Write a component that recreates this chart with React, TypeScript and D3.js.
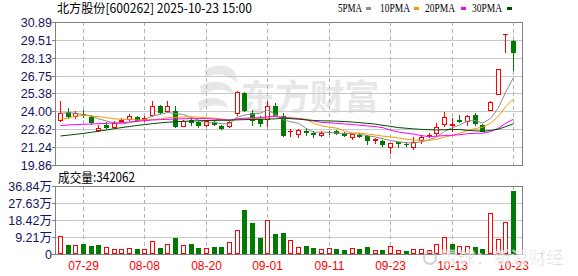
import React from 'react';
import * as d3 from 'd3';

const dates = [
  '07-24','07-25','07-28','07-29','07-30','07-31','08-01','08-04','08-05','08-06','08-07','08-08',
  '08-11','08-12','08-13','08-14','08-15','08-18','08-19','08-20','08-21','08-22','08-25','08-26',
  '08-27','08-28','08-29','09-01','09-02','09-03','09-04','09-05','09-08','09-09','09-10','09-11',
  '09-12','09-15','09-16','09-17','09-18','09-19','09-22','09-23','09-24','09-25','09-26','09-29',
  '09-30','10-09','10-10','10-13','10-14','10-15','10-16','10-17','10-20','10-21','10-22','10-23'
];

const openP = [
  23.36,23.92,23.61,23.82,23.54,22.56,22.97,22.77,23.23,23.44,23.56,23.38,
  23.69,24.44,24.00,24.00,22.90,23.36,23.15,22.97,23.15,22.87,22.84,23.87,
  25.41,23.87,23.44,23.40,24.39,23.65,22.45,22.25,22.51,22.35,22.18,22.40,
  22.48,22.30,22.02,22.18,22.07,21.80,21.74,21.28,21.62,21.50,21.27,21.79,
  22.15,22.30,23.02,22.95,23.30,23.25,23.72,22.95,24.10,25.34,29.96,29.45
];
const highP = [
  24.82,24.26,24.00,24.13,23.74,22.92,23.15,23.23,23.49,23.79,23.67,23.61,
  24.77,24.51,24.77,24.39,23.36,23.49,23.28,23.36,23.31,22.97,23.33,25.54,
  25.49,24.13,23.61,24.80,24.64,23.85,22.65,22.65,22.69,22.45,22.52,22.50,
  22.56,22.38,22.28,22.35,22.15,21.97,21.76,21.58,21.65,21.55,22.00,22.17,
  22.30,23.07,23.97,23.45,23.72,23.72,23.84,23.00,24.76,27.27,29.96,29.50
];
const lowP = [
  23.23,23.49,23.49,23.54,23.02,22.51,22.72,22.72,23.15,23.33,23.28,23.28,
  23.61,23.87,23.95,22.77,22.84,22.97,22.77,22.84,22.92,22.61,22.77,23.74,
  24.00,22.97,22.84,22.85,23.61,22.07,22.10,22.05,22.17,22.05,22.10,22.28,
  22.25,22.12,21.90,21.99,21.50,21.53,21.30,20.75,21.28,21.35,21.07,21.53,
  22.05,22.20,22.87,22.50,23.20,22.95,22.95,22.45,24.08,25.30,28.60,27.20
];
const closeP = [
  23.87,23.61,23.85,23.74,23.15,22.72,22.82,23.08,23.36,23.64,23.36,23.49,
  24.39,23.95,24.39,22.84,23.23,23.20,22.97,23.23,23.05,22.74,23.20,25.49,
  24.13,23.36,23.10,24.40,23.74,22.20,22.50,22.56,22.40,22.22,22.33,22.38,
  22.30,22.18,22.22,22.12,21.76,21.85,21.50,21.55,21.58,21.45,21.66,22.05,
  22.20,22.80,23.54,23.00,23.25,23.64,23.07,22.51,24.74,27.24,29.96,28.60
];
// volume in 万 (10k shares)
const volumeW = [
  9.8,5.0,4.8,5.5,4.5,5.0,3.8,2.9,2.9,3.4,2.9,2.9,
  7.2,3.4,5.5,8.8,4.8,5.5,3.4,3.4,3.9,3.9,6.6,12.9,
  23.8,17.0,8.8,18.2,10.9,11.4,7.6,3.8,4.5,3.4,2.9,3.4,
  2.9,2.3,3.2,2.9,3.9,2.3,2.3,4.5,2.3,1.8,2.9,2.9,
  2.3,5.5,9.3,5.5,4.5,4.5,3.9,2.9,22.2,8.2,17.3,34.2062
];

// MA values at the start of the window (earlier closes are not shown)
const ma5Lead = [23.85,23.90,23.85,23.74];
const ma10Lead = [23.38,23.49,23.64,23.69,23.64,23.59,23.51,23.43,23.38];
const ma20Lead = [22.90,22.95,22.97,23.00,23.02,23.05,23.07,23.10,23.13,23.18,23.23,23.28,23.33,23.36,23.38,23.41,23.43,23.44,23.44];
const ma30Lead = [22.10,22.16,22.23,22.30,22.38,22.47,22.56,22.66,22.75,22.83,22.91,22.98,23.05,23.11,23.16,23.20,23.23,23.25,23.27,23.29,23.30,23.31,23.32,23.34,23.36,23.37,23.38,23.40,23.42];

const priceTicks = ['30.89','29.51','28.13','26.75','25.38','24.00','22.62','21.24','19.86'];
const volTickLabels = ['36.84万','27.63万','18.42万','9.21万','0'];
const volTickValues = [36.84,27.63,18.42,9.21,0];
const xTickLabels = ['07-29','08-08','08-20','09-01','09-11','09-23','10-13','10-23'];

const maSeries = [
  { name: '5PMA', n: 5, lead: ma5Lead, color: '#8c8c8c' },
  { name: '10PMA', n: 10, lead: ma10Lead, color: '#ff9900' },
  { name: '20PMA', n: 20, lead: ma20Lead, color: '#ff00ff' },
  { name: '30PMA', n: 30, lead: ma30Lead, color: '#004d00' },
];

const RED = '#ff0000';
const GREEN = '#007a00';
const LABEL = '#141464';
const GRID = '#c8c8c8';
const FRAME = '#808080';

function movingAvg(n: number, lead: number[]) {
  return closeP.map((_, i) => (i < n - 1 ? lead[i] : (d3.mean(closeP.slice(i - n + 1, i + 1)) as number)));
}

export default function App() {
  const L = 55, R = 522;
  const pTop = 22, pBot = 165, vTop = 186, vBot = 254;
  const x = d3.scalePoint<string>().domain(dates).range([60, 513]);
  const yP = d3.scaleLinear().domain([19.86, 30.89]).range([pBot, pTop]);
  const yV = d3.scaleLinear().domain([0, 36.84]).range([vBot, vTop]);
  const px = (i: number) => Math.round(x(dates[i]) as number);

  const candles = dates.map((d, i) => {
    const o = openP[i], c = closeP[i], h = highP[i], l = lowP[i];
    const up = c >= o;
    const cxp = px(i);
    const top = Math.round(yP(Math.max(o, c)));
    const bot = Math.round(yP(Math.min(o, c)));
    const yh = Math.round(yP(h));
    const yl = Math.round(yP(l));
    const col = up ? RED : GREEN;
    const els: React.ReactNode[] = [];
    if (bot - top < 1) {
      els.push(<line key="w" x1={cxp + 0.5} x2={cxp + 0.5} y1={yh} y2={yl + 1} stroke={col} />);
      els.push(<line key="b" x1={cxp - 2} x2={cxp + 3} y1={top + 0.5} y2={top + 0.5} stroke={col} />);
    } else if (up) {
      els.push(<line key="w1" x1={cxp + 0.5} x2={cxp + 0.5} y1={yh} y2={top} stroke={col} />);
      els.push(<line key="w2" x1={cxp + 0.5} x2={cxp + 0.5} y1={bot + 1} y2={yl + 1} stroke={col} />);
      els.push(<rect key="b" x={cxp - 1.5} y={top + 0.5} width={4} height={bot - top} fill="#fff" stroke={col} />);
    } else {
      els.push(<line key="w" x1={cxp + 0.5} x2={cxp + 0.5} y1={yh} y2={yl + 1} stroke={col} />);
      els.push(<rect key="b" x={cxp - 2} y={top} width={5} height={bot - top + 1} fill={col} />);
    }
    return <g key={d}>{els}</g>;
  });

  const volBars = dates.map((d, i) => {
    const upV = i === 0 ? closeP[0] >= openP[0] : closeP[i] >= closeP[i - 1];
    const cxp = px(i);
    const top = Math.round(yV(volumeW[i]));
    if (upV) {
      return <rect key={d} x={cxp - 1.5} y={top + 0.5} width={4} height={vBot - top - 1} fill="#fff" stroke={RED} />;
    }
    return <rect key={d} x={cxp - 2} y={top} width={5} height={vBot - top} fill={GREEN} />;
  });

  const lineGen = d3.line<number>().x((_, i) => (x(dates[i]) as number) + 0.5).y((v) => yP(v));

  const tickIdx = xTickLabels.map((t) => dates.indexOf(t));

  return (
    <svg width={578} height={276} style={{ position: 'absolute', left: 0, top: 0, background: '#fff' }}
      fontFamily="'Liberation Sans', Arial, sans-serif">
      <defs>
        <clipPath id="pclip"><rect x={L + 1} y={pTop + 1} width={R - L - 1} height={pBot - pTop - 1} /></clipPath>
      </defs>
      <rect x={0} y={0} width={578} height={276} fill="#fff" />

      {/* title */}
      <text x={57} y={13} fontSize={12.5} fill="#000" fontFamily="'Noto Sans CJK SC', sans-serif"
        textLength={195} lengthAdjust="spacingAndGlyphs">北方股份[600262] 2025-10-23 15:00</text>

      {/* legend */}
      {maSeries.map((m, k) => {
        const tx = [338, 380, 425, 472][k];
        const sx = [366, 414, 461, 507][k];
        return (
          <g key={m.name}>
            <text x={tx} y={12.3} fontSize={11.5} fill="#000" fontFamily="'Liberation Serif', serif"
              textLength={m.name.length === 4 ? 24 : 30} lengthAdjust="spacingAndGlyphs">{m.name}</text>
            <rect x={sx} y={7} width={5} height={3} fill={m.color} />
          </g>
        );
      })}

      {/* watermark */}
      <g fill="#e6e6e6" opacity={0.95}>
        <path d="M205,70 C222,60 240,68 236,82 C228,74 214,72 205,78 Z" />
        <path d="M200,86 C214,78 232,82 234,94 C224,88 210,88 202,96 Z" />
        <path d="M198,102 C210,94 226,98 228,108 C218,104 208,104 200,112 Z" />
        <text x={241} y={110} fontSize={35} fontWeight="bold" fontFamily="'Noto Sans CJK SC', sans-serif"
          textLength={138} lengthAdjust="spacingAndGlyphs">东方财富</text>
      </g>

      {/* price panel grid */}
      {priceTicks.map((t) => {
        const yy = Math.round(yP(parseFloat(t))) + 0.5;
        return (
          <g key={t}>
            <line x1={L} x2={R} y1={yy} y2={yy} stroke={GRID} />
            <line x1={L - 3} x2={L} y1={yy} y2={yy} stroke={FRAME} />
            <text x={52} y={yy} dy="0.36em" textAnchor="end" fontSize={12.5} fill={LABEL}>{t}</text>
          </g>
        );
      })}
      {tickIdx.map((i) => (
        <line key={'pv' + i} x1={px(i) + 0.5} x2={px(i) + 0.5} y1={pTop} y2={pBot} stroke="#b4b4b4" strokeDasharray="4,3" />
      ))}

      {/* candles */}
      <g>{candles}</g>

      {/* moving averages */}
      <g clipPath="url(#pclip)">
        {maSeries.map((m) => (
          <path key={m.name} d={lineGen(movingAvg(m.n, m.lead)) || ''} fill="none" stroke={m.color} strokeWidth={1} />
        ))}
      </g>

      <rect x={L + 0.5} y={pTop + 0.5} width={R - L} height={pBot - pTop} fill="none" stroke={FRAME} />

      {/* volume panel */}
      <text x={58} y={177} dy="0.36em" fontSize={13} fill="#000" fontFamily="'Noto Sans CJK SC', sans-serif"
        textLength={77} lengthAdjust="spacingAndGlyphs">成交量:342062</text>
      {volTickValues.map((v, k) => {
        const yy = Math.round(yV(v)) + 0.5;
        return (
          <g key={'vt' + k}>
            <line x1={L} x2={R} y1={yy} y2={yy} stroke={GRID} />
            <line x1={L - 3} x2={L} y1={yy} y2={yy} stroke={FRAME} />
            <text x={52} y={yy} dy="0.36em" textAnchor="end" fontSize={12.5} fill={LABEL}
              fontFamily="'Liberation Sans', 'Noto Sans CJK SC', sans-serif">{volTickLabels[k]}</text>
          </g>
        );
      })}
      {tickIdx.map((i) => (
        <line key={'vv' + i} x1={px(i) + 0.5} x2={px(i) + 0.5} y1={vTop} y2={vBot} stroke="#b4b4b4" strokeDasharray="4,3" />
      ))}
      <g>{volBars}</g>
      <rect x={L + 0.5} y={vTop + 0.5} width={R - L} height={vBot - vTop} fill="none" stroke={FRAME} />

      {/* x labels */}
      {tickIdx.map((i, k) => (
        <text key={'xl' + k} x={px(i) + 0.5} y={266} dy="0.36em" textAnchor="middle" fontSize={12} fill={RED}>
          {xTickLabels[k]}
        </text>
      ))}

      {/* bottom-right source watermark */}
      <g opacity={0.75}>
        <circle cx={430} cy={258} r={6} fill="none" stroke="#c4c4c4" strokeWidth={2} />
        <text x={440} y={264} fontSize={17} fill="#c4c4c4" stroke="#fff" strokeWidth={0.6}
          fontFamily="'Noto Sans CJK SC', sans-serif" textLength={124} lengthAdjust="spacingAndGlyphs">雪球：新浪财经</text>
      </g>
    </svg>
  );
}
